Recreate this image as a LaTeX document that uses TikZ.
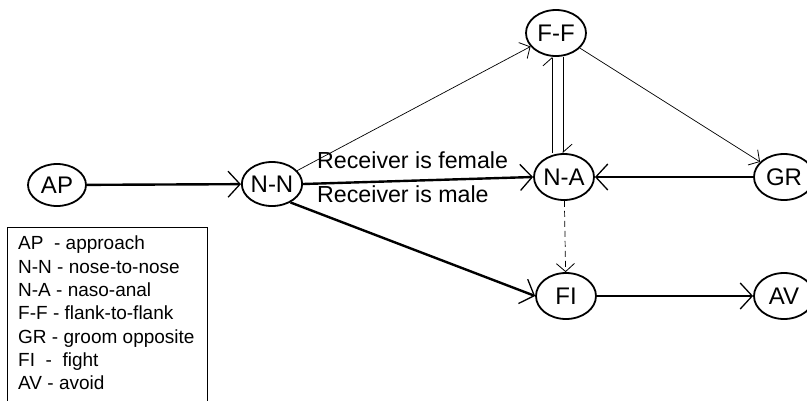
\documentclass[tikz,border=0pt]{standalone}
\usepackage{fontspec}
\setmainfont{Liberation Sans}
\usetikzlibrary{arrows.meta,shapes.geometric}
\begin{document}
\begin{tikzpicture}[x=1pt,y=-1pt,
  st/.style={draw,ellipse,line width=1.8pt,inner sep=0pt,minimum width=60pt,minimum height=46pt,font=\fontsize{24}{24}\selectfont},
  thickedge/.style={line width=2.4pt,-{Straight Barb[length=12pt,width=26pt,line width=1.3pt]}},
  thinedge/.style={line width=0.7pt,-{Straight Barb[length=8pt,width=18pt,line width=0.8pt]}},
  harpedge/.style={line width=0.7pt,-{Straight Barb[harpoon,length=8pt,width=18pt,line width=0.8pt]}},
  lbl/.style={font=\fontsize{23.2}{23.2}\selectfont,anchor=base west,inner sep=0pt},
]
\useasboundingbox (0,0) rectangle (807,400);
% nodes
\node[st,minimum height=42pt,minimum width=58pt] (AP) at (57,185) {AP};
\node[st,minimum height=44pt] (NN) at (272,184) {N-N};
\node[st] (NA) at (564,177) {N-A};
\node[st] (GR) at (784,177) {GR};
\node[st] (FF) at (556,33) {F-F};
\node[st] (FI) at (566,296) {FI};
\node[st] (AV) at (784,296) {AV};
% edge labels
\node[lbl] (lf) at (317,168) {Receiver is female};
\node[lbl] (lm) at (317,202) {Receiver is male};
% connectors
\draw[thickedge] (AP) -- (NN);
\draw[thickedge] (NN.east) -- (NA.west);
\draw[thickedge] (GR) -- (NA);
\draw[thickedge] (NN.-45) -- (FI.west);
\draw[thickedge] (FI) -- (AV);
\draw[thinedge] (NN) -- (FF);
\draw[thinedge] (FF) -- (GR);
\draw[thinedge,dash pattern=on 6pt off 4pt] (NA) -- (FI);
\draw[harpedge] ([xshift=-12pt]NA.north) -- ([xshift=-12pt]NA.north |- FF.south);
\draw[harpedge] ([xshift=7pt]FF.south) -- ([xshift=7pt]FF.south |- NA.north);
% legend
\draw[line width=0.7pt] (7,405) -- (7,227) -- (207,227) -- (207,405);
\node[anchor=north west,align=left,inner sep=0pt,font=\fontsize{19}{23.3}\selectfont] (legend) at (18,236)
 {AP\ \ - approach\\
  N-N - nose-to-nose\\
  N-A - naso-anal\\
  F-F - flank-to-flank\\
  GR - groom opposite\\
  FI\ \ -\ \ fight\\
  AV - avoid};
\end{tikzpicture}
\end{document}
